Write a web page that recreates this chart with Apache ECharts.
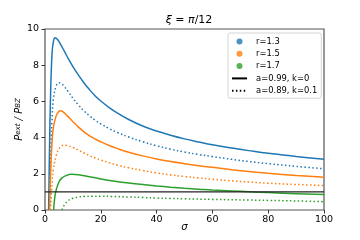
<!DOCTYPE html>
<html>
<head>
<meta charset="utf-8">
<script src="https://cdn.jsdelivr.net/npm/echarts@6/dist/echarts.min.js"></script>
<style>html,body{margin:0;padding:0;background:#fff;}#c{width:360px;height:240px;}</style>
</head>
<body>
<div id="c"></div>
<script>
// sigma sample points and values
const sigR13Solid = [1.3,1.6,2,2.5,3,3.6,4.5,5.5,7,8.5,10,12,14,16,18,20,23,26,30,35,40,45,50,55,60,67,73,80,90,100];
const valR13Solid = [0,3.2,6.4,8.6,9.3,9.52,9.42,9.18,8.75,8.32,7.92,7.45,7.02,6.64,6.3,6.02,5.66,5.35,5.0,4.64,4.36,4.13,3.93,3.76,3.6,3.42,3.28,3.13,2.96,2.8];
const sigR13Dot = [1.7,2,2.5,3,4,5,6,7,8.5,10,12,14,16,18,20,23,26,30,35,40,45,50,55,60,67,73,80,90,100];
const valR13Dot = [0,2.6,4.9,6.1,6.85,7.03,6.97,6.8,6.5,6.18,5.8,5.47,5.2,4.96,4.76,4.5,4.28,4.03,3.77,3.55,3.36,3.2,3.07,2.95,2.8,2.68,2.56,2.41,2.28];
const sigR15Solid = [1.6,2,2.5,3,4,5,5.5,6.5,8,10,12,14,16,18,20,23,26,30,35,40,45,50,55,60,67,73,80,90,100];
const valR15Solid = [0,2.0,3.7,4.55,5.2,5.46,5.49,5.42,5.2,4.88,4.58,4.32,4.1,3.92,3.76,3.56,3.39,3.19,2.99,2.82,2.68,2.56,2.45,2.36,2.23,2.13,2.03,1.91,1.81];
const sigR15Dot = [2.0,2.5,3,4,5,6.5,8,10,12,14,16,18,20,23,26,30,35,40,45,50,55,60,67,73,80,90,100];
const valR15Dot = [0,1.4,2.25,3.0,3.38,3.58,3.56,3.45,3.3,3.15,3.0,2.87,2.76,2.61,2.48,2.33,2.18,2.05,1.94,1.85,1.77,1.7,1.61,1.55,1.48,1.41,1.35];
const sigR17Solid = [3.1,3.5,4,5,6,7.5,9.6,12,15,18,21,25,30,35,40,45,50,55,60,67,73,80,90,100];
const valR17Solid = [0,0.7,1.1,1.55,1.76,1.9,1.97,1.95,1.87,1.78,1.69,1.59,1.49,1.41,1.33,1.26,1.2,1.15,1.1,1.05,1.01,0.96,0.9,0.85];
const sigR17Dot = [6.1,6.6,7.2,8.4,10,12,14,17,20,24,30,35,40,45,50,60,73,80,90,100];
const valR17Dot = [0,0.18,0.34,0.53,0.65,0.72,0.75,0.765,0.765,0.75,0.72,0.69,0.66,0.64,0.62,0.585,0.55,0.53,0.5,0.46];
const sigUnity = [0,100];
const valUnity = [1,1];
const rLabels = ['r=1.3','r=1.5','r=1.7'];
const styleLabels = ['a=0.99, k=0','a=0.89, k=0.1'];
const xTicks = [0,20,40,60,80,100];
const yTicks = [0,2,4,6,8,10];

const colors = ['#1f77b4','#ff7f0e','#2ca02c'];
const font = 'DejaVu Sans';
const zip = (a,b) => a.map((v,i)=>[v,b[i]]);

function curve(name, sig, val, color, dotted){
  return {
    name, type:'line', data: zip(sig,val), symbol:'none', smooth:0.4,
    lineStyle:{color, width:1.5, type: dotted ? [1.5,2.4] : 'solid', cap:'butt'},
    silent:true, z:3, clip:true
  };
}

const series = [
  curve('c1', sigR13Solid, valR13Solid, colors[0], false),
  curve('c2', sigR13Dot, valR13Dot, colors[0], true),
  curve('c3', sigR15Solid, valR15Solid, colors[1], false),
  curve('c4', sigR15Dot, valR15Dot, colors[1], true),
  curve('c5', sigR17Solid, valR17Solid, colors[2], false),
  curve('c6', sigR17Dot, valR17Dot, colors[2], true),
  {name:'unity', type:'line', data: zip(sigUnity,valUnity), symbol:'none',
   lineStyle:{color:'#222', width:1.2}, silent:true, z:4}
];
rLabels.forEach((n,i)=>series.push({name:n, type:'scatter', data:[], symbol:'circle', itemStyle:{color:colors[i]}}));
series.push({name:styleLabels[0], type:'line', data:[], symbol:'none', itemStyle:{color:'#000'}, lineStyle:{color:'#000', width:1.5}});
series.push({name:styleLabels[1], type:'line', data:[], symbol:'none', itemStyle:{color:'#000'}, lineStyle:{color:'#000', width:1.5, type:[1.5,2.4]}});

const chart = echarts.init(document.getElementById('c'), null, {renderer:'canvas'});
chart.setOption({
  animation:false,
  backgroundColor:'#fff',
  title:{
    text:'{i|ξ} = {i|π}/12', left:184, textAlign:'center', top:10,
    textStyle:{fontFamily:font, fontSize:11, fontWeight:'normal', color:'#000',
      rich:{i:{fontFamily:font, fontSize:11, fontStyle:'italic', color:'#000'}}}
  },
  grid:{left:45, right:36, top:29, bottom:30, outerBoundsMode:'none', containLabel:false,
    show:true, borderColor:'#555', borderWidth:1.2, backgroundColor:'transparent'},
  legend:{
    orient:'vertical', left:228, top:33,
    data: rLabels.concat(styleLabels.map(n=>({name:n, itemStyle:{opacity:0}}))),
    itemWidth:15, itemHeight:6, itemGap:1.3,
    padding:[3,4,2,3],
    borderColor:'#d4d4d4', borderWidth:1, borderRadius:2, backgroundColor:'rgba(255,255,255,0.85)',
    textStyle:{fontFamily:font, fontSize:8.4, color:'#000', padding:[0,0,0,4], lineHeight:11},
    selectedMode:false
  },
  xAxis:{
    type:'value', min:0, max:100, interval:20,
    name:'{i|σ}', nameLocation:'middle', nameGap:12, nameMoveOverlap:false,
    nameTextStyle:{rich:{i:{fontFamily:font, fontSize:10, fontStyle:'italic', color:'#000'}}},
    axisLine:{show:false}, splitLine:{show:false},
    axisTick:{show:true, length:3.5, lineStyle:{color:'#333', width:1}},
    axisLabel:{fontFamily:font, fontSize:9.5, color:'#000', margin:4.5,
      formatter:v=>xTicks.includes(v)?String(v):''}
  },
  yAxis:{
    type:'value', min:0, max:10, interval:2,
    name:'{i|P}{s|ext}{i| / P}{s|BZ}', nameLocation:'middle', nameGap:10.5, nameRotate:90, nameMoveOverlap:false,
    nameTextStyle:{rich:{
      i:{fontFamily:font, fontSize:10, fontStyle:'italic', color:'#000', lineHeight:12, verticalAlign:'top'},
      s:{fontFamily:font, fontSize:7, fontStyle:'italic', color:'#000', lineHeight:20, verticalAlign:'top'}}},
    axisLine:{show:false}, splitLine:{show:false},
    axisTick:{show:true, length:3.5, lineStyle:{color:'#333', width:1}},
    axisLabel:{fontFamily:font, fontSize:9.5, color:'#000', margin:6,
      formatter:v=>yTicks.includes(v)?String(v):''}
  },
  series
});
</script>
</body>
</html>
